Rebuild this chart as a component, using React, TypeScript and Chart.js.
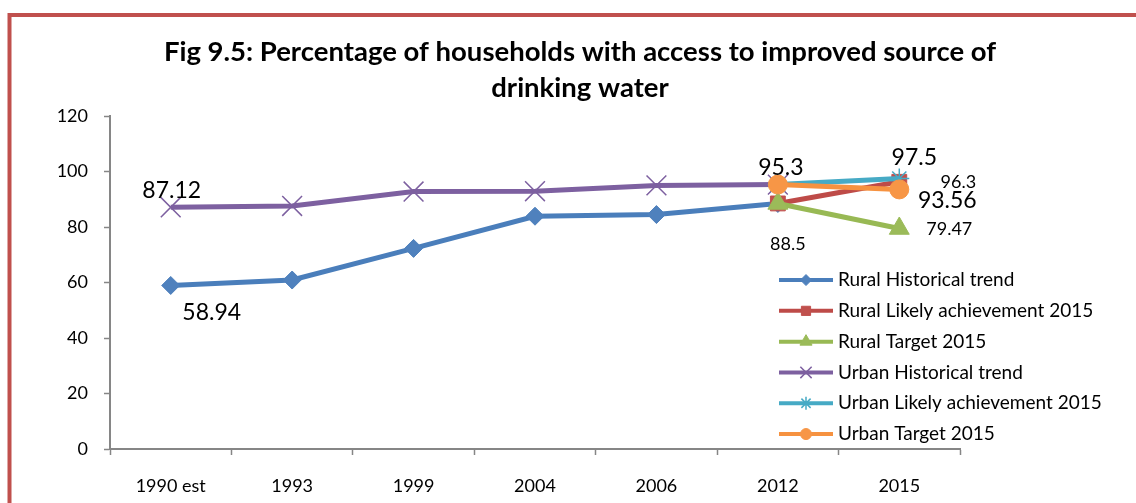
import React, { useEffect, useRef } from "react";
import { Chart, registerables } from "chart.js";
import { drawPoint } from "chart.js/helpers";

Chart.register(...registerables);

// ---------- data ----------
const categories = ["1990 est", "1993", "1999", "2004", "2006", "2012", "2015"];
const ruralHistorical = [58.94, 60.9, 72.3, 83.9, 84.5, 88.5, null];
const ruralLikely = [null, null, null, null, null, 88.5, 96.3];
const ruralTarget = [null, null, null, null, null, 88.5, 79.47];
const urbanHistorical = [87.12, 87.6, 92.8, 92.9, 95.0, 95.3, null];
const urbanLikely = [null, null, null, null, null, 95.3, 97.5];
const urbanTarget = [null, null, null, null, null, 95.3, 93.56];
const seriesNames = [
  "Rural Historical trend",
  "Rural Likely achievement 2015",
  "Rural Target 2015",
  "Urban Historical trend",
  "Urban Likely achievement 2015",
  "Urban Target 2015",
];
const titleLines = [
  "Fig 9.5: Percentage of households with access to improved source of",
  "drinking water",
];
const yMin = 0;
const yMax = 120;
const yStep = 20;

// ---------- styles ----------
const FONT = "Lato, 'Noto Sans', sans-serif";
const lineColors = ["#4A7EBB", "#BE4B48", "#98B954", "#7D60A0", "#46AAC5", "#F69240"];
const markerFill = ["#4F81BD", "#C0504D", "#9BBB59", "#8064A2", "#4BACC6", "#F79646"];
const markerStyles = ["rectRot", "rect", "triangle", "crossRot", "star", "circle"];
const markerRadius = [9, 10.5, 11.5, 14, 10, 9.5];
const legendRadius = [5.5, 6.5, 7, 8, 6.5, 5.5];
const markerBorderW = [1, 1, 1, 1.5, 1.5, 1];

// data-label placement: which series/point, offset from the point, font size
const labelSpecs = [
  { ds: 3, idx: 0, dx: 1, dy: -17, size: 23 },
  { ds: 0, idx: 0, dx: 41, dy: 27, size: 23 },
  { ds: 3, idx: 5, dx: 3, dy: -17, size: 23 },
  { ds: 0, idx: 5, dx: 10, dy: 41, size: 18 },
  { ds: 4, idx: 6, dx: 15, dy: -21, size: 23 },
  { ds: 1, idx: 6, dx: 59, dy: 0, size: 18 },
  { ds: 5, idx: 6, dx: 48, dy: 11, size: 23 },
  { ds: 2, idx: 6, dx: 50, dy: 1, size: 18 },
];

const frameAndLabels = {
  id: "frameAndLabels",
  beforeDraw(chart: any) {
    const ctx = chart.ctx;
    ctx.save();
    ctx.fillStyle = "#ffffff";
    ctx.fillRect(0, 0, chart.width, chart.height);
    ctx.strokeStyle = "#C0504D";
    ctx.lineWidth = 4;
    ctx.strokeRect(9.5, 15, chart.width + 50, chart.height + 50);
    ctx.restore();
  },
  afterDraw(chart: any) {
    const ctx = chart.ctx;
    ctx.save();
    // data labels
    ctx.fillStyle = "#000";
    ctx.textAlign = "center";
    ctx.textBaseline = "middle";
    labelSpecs.forEach((s) => {
      const pt = chart.getDatasetMeta(s.ds).data[s.idx];
      const v = chart.data.datasets[s.ds].data[s.idx];
      if (!pt || v == null) return;
      ctx.font = `${s.size}px ${FONT}`;
      ctx.fillText(String(v), pt.x + s.dx, pt.y + s.dy);
    });
    // legend
    const area = chart.chartArea;
    const lx0 = area.right - 181;
    const lx1 = area.right - 127;
    const ly0 = area.top + 164;
    const rowH = 30.8;
    chart.data.datasets.forEach((d: any, i: number) => {
      const y = ly0 + i * rowH;
      ctx.strokeStyle = lineColors[i];
      ctx.lineWidth = 4;
      ctx.beginPath();
      ctx.moveTo(lx0, y);
      ctx.lineTo(lx1, y);
      ctx.stroke();
      ctx.fillStyle = markerFill[i];
      ctx.strokeStyle = i >= 3 && i <= 4 ? lineColors[i] : markerFill[i];
      ctx.lineWidth = markerBorderW[i];
      drawPoint(
        ctx,
        { pointStyle: markerStyles[i], radius: legendRadius[i], rotation: 0, borderWidth: markerBorderW[i] } as any,
        (lx0 + lx1) / 2,
        y
      );
      ctx.fillStyle = "#000";
      ctx.font = `19px ${FONT}`;
      ctx.textAlign = "left";
      ctx.textBaseline = "middle";
      ctx.fillText(d.label, lx1 + 5, y);
    });
    ctx.restore();
  },
};

export default function App() {
  const ref = useRef<HTMLCanvasElement>(null);
  useEffect(() => {
    const seriesData = [ruralHistorical, ruralLikely, ruralTarget, urbanHistorical, urbanLikely, urbanTarget];
    const datasets = seriesData.map((arr, i) => ({
      label: seriesNames[i],
      data: arr,
      borderColor: lineColors[i],
      backgroundColor: markerFill[i],
      borderWidth: 5,
      pointStyle: markerStyles[i] as any,
      pointRadius: markerRadius[i],
      pointBackgroundColor: markerFill[i],
      pointBorderColor: i === 3 || i === 4 ? lineColors[i] : markerFill[i],
      pointBorderWidth: markerBorderW[i],
      tension: 0,
      spanGaps: false,
      order: 5 - i,
    }));
    const chart = new Chart(ref.current!, {
      type: "line",
      data: { labels: categories, datasets },
      options: {
        responsive: false,
        animation: false,
        devicePixelRatio: 1,
        layout: { padding: { left: 24, right: 0, top: 0, bottom: 0 } },
        plugins: {
          legend: { display: false },
          tooltip: { enabled: false },
          title: {
            display: true,
            text: titleLines,
            color: "#000",
            font: { family: FONT, size: 27.5, weight: "bold", lineHeight: 1.31 },
            padding: { top: 34, bottom: 10 },
          },
        },
        scales: {
          x: {
            type: "category",
            offset: true,
            grid: { display: true, offset: true, drawOnChartArea: false, tickLength: 6, tickColor: "#868686", tickWidth: 1.5 },
            border: { display: true, color: "#868686", width: 2 },
            ticks: { color: "#000", font: { family: FONT, size: 18 }, padding: 20, maxRotation: 0, autoSkip: false },
            afterFit: (s: any) => {
              s.height = 54;
            },
          },
          y: {
            type: "linear",
            position: "left",
            min: yMin,
            max: yMax,
            ticks: { stepSize: yStep, color: "#000", font: { family: FONT, size: 18 }, padding: 16 },
            grid: { display: true, drawOnChartArea: false, tickLength: 6, tickColor: "#868686", tickWidth: 1.5 },
            border: { display: true, color: "#868686", width: 2 },
            afterFit: (s: any) => {
              s.width = 86;
            },
          },
          yRight: {
            type: "linear",
            position: "right",
            display: true,
            grid: { display: false },
            border: { display: false },
            ticks: { display: false },
            afterFit: (s: any) => {
              s.width = 176;
            },
          },
        },
      },
      plugins: [frameAndLabels],
    } as any);
    return () => chart.destroy();
  }, []);
  return (
    <div style={{ position: "fixed", left: 0, top: 0, width: 1136, height: 503, background: "#fff" }}>
      <canvas ref={ref} width={1136} height={503} style={{ display: "block", width: 1136, height: 503 }} />
    </div>
  );
}
